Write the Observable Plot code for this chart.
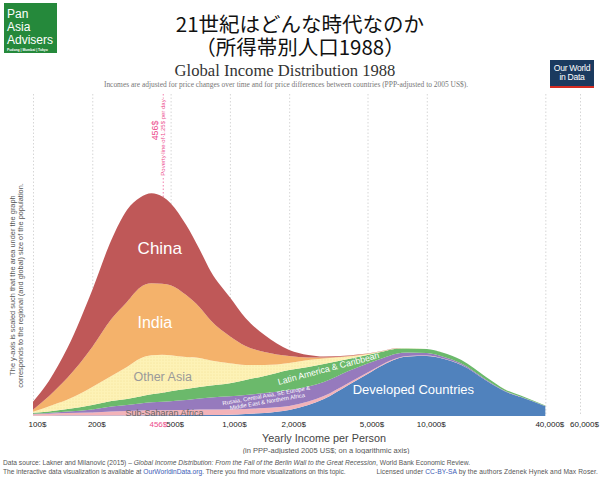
<!DOCTYPE html>
<html><head><meta charset="utf-8">
<script src="https://cdn.jsdelivr.net/npm/d3@7"></script>
<script src="https://cdn.jsdelivr.net/npm/@observablehq/plot@0.6"></script>
<style>
body{margin:0;background:#fff;}
#wrap{position:relative;width:600px;height:478px;overflow:hidden;font-family:"Liberation Sans",Arial,sans-serif;background:#fff;}
.abs{position:absolute;white-space:nowrap;}
.jp{font-family:"Noto Sans CJK JP",sans-serif;font-size:20.5px;line-height:23px;color:#111;left:0;width:600px;text-align:center;}
.blue{color:#3b5bb5;}
</style></head><body>
<div id="wrap">
  <svg class="abs" style="left:4px;top:3px" width="53" height="50">
    <rect width="53" height="50" fill="#25893b"/>
    <text x="3" y="15" font-size="12" fill="#fff" font-family="Liberation Sans, Arial">Pan</text>
    <text x="3" y="28" font-size="12" fill="#fff" font-family="Liberation Sans, Arial">Asia</text>
    <text x="3" y="41" font-size="12" fill="#fff" font-family="Liberation Sans, Arial">Advisers</text>
    <text x="3" y="48" font-size="3.4" font-weight="bold" fill="#fff" font-family="Liberation Sans, Arial">Pudong | Mumbai | Tokyo</text>
  </svg>
  <div class="abs jp" style="top:12px">21世紀はどんな時代なのか<br>（所得帯別人口1988）</div>
  <div class="abs" style="top:62px;left:0;width:570px;text-align:center;font-family:'Liberation Serif',serif;font-size:16.6px;line-height:17px;color:#333">Global Income Distribution 1988</div>
  <div class="abs" style="top:80.5px;left:0;width:572px;text-align:center;font-family:'Liberation Serif',serif;font-size:7.45px;line-height:8px;color:#777">Incomes are adjusted for price changes over time and for price differences between countries (PPP-adjusted to 2005 US$).</div>
  <div class="abs" style="left:550px;top:60px;width:44px;height:28px;background:#1b3a5f;">
    <div style="color:#fff;font-size:8.6px;line-height:9px;text-align:center;padding-top:4px;letter-spacing:-0.3px">Our World<br>in Data</div>
    <div style="position:absolute;left:0;bottom:0;width:44px;height:2.5px;background:#d42b21"></div>
  </div>
  <div id="chart" class="abs" style="left:0;top:92px"></div>
  <div class="abs" style="left:3px;top:458px;width:595px;font-size:6.65px;line-height:9px;color:#555">
    <div>Data source: Lakner and Milanovic (2015) – <i>Global Income Distribution: From the Fall of the Berlin Wall to the Great Recession</i>, World Bank Economic Review.</div>
    <div>The interactive data visualization is available at <span class="blue">OurWorldinData.org</span>. There you find more visualizations on this topic.<span style="float:right;letter-spacing:0.1px">Licensed under <span class="blue">CC-BY-SA</span> by the authors Zdenek Hynek and Max Roser.</span></div>
  </div>
</div>
<script>
// Yearly income per person (PPP 2005 US$), sample points on the log axis
const incomes = [100,120,150,200,250,300,350,400,456,500,600,700,800,1000,1200,1500,2000,2500,3000,4000,5000,6000,7000,8000,10000,12000,15000,20000,25000,30000,40000];
// Population density per region (stacked, bottom to top)
const developed    = [0.3,0.3,0.4,0.5,0.5,0.6,0.6,0.7,0.7,0.8,0.9,1,1,1.2,2,3,6,11,17,31,42,51,57,59.5,60,57.5,51,35.5,24.5,19,9.8];
const subSaharan   = [1.5,2,2.5,3,4,4.5,5,5,5,5,5,5.5,5.5,5.5,5,5,4,3.5,3,2,1.5,1,0.7,0.5,0.4,0.3,0.2,0.1,0.1,0.05,0.05];
const russiaMENA   = [0.5,0.8,1.5,3,5,6,7,8,8.5,9,10,11,12,13,14,15,16,15,14,12,9,6,4.5,3.5,2.5,1.8,1.2,0.7,0.4,0.3,0.2];
const latinAmerica = [1,1.5,2.5,4.5,5.5,6,7,8,9,10,11,11.5,12,13,15,17,20,19.5,18,12,8.5,6.5,5,4,4,3.8,3.5,2.7,1.6,1.2,0.5];
const otherAsia    = [1,5,9.5,18,25,32,38,39,38,36,32,29,25,20,15,11,7,7,5.5,2.5,1,0.5,0.3,0.2,0.2,0.1,0.1,0.1,0.05,0.05,0];
const india        = [2,10,22,40,57,65,71,72,71,70,62,51,40,27,19,13,7,2.5,1,0.5,0.2,0.1,0.1,0.05,0,0,0,0,0,0,0];
const china        = [8,15,30,57,79,92,90,90,87,82,70,58,49,39,28,17,6,2.5,1,0.5,0.2,0.1,0.1,0.05,0,0,0,0,0,0,0];

const regions = ["Developed Countries","Sub-Saharan Africa","Russia, Central Asia, SE Europe & Middle East & Northern Africa","Latin America & Caribbean","Other Asia","India","China"];
const series = [developed, subSaharan, russiaMENA, latinAmerica, otherAsia, india, china];
const regionColors = ["#5082bd","#f3b3b9","#967abd","#6bb96b","url(#otherAsiaDots)","#f4b26b","#bf5858"];

const xTicks = [100,200,500,1000,2000,5000,10000,40000,60000];
const povertyLine = 456;

// Label anchors (income, density)
const labelNames = ["China","India","Other Asia","Latin America & Caribbean","Russia, Central Asia, SE Europe &\nMiddle East & Northern Africa","Developed Countries","Sub-Saharan Africa"];
const labelIncome = [438,413,453,3150,1530,8500,463];
const labelDensity = [168,94,40,48,18,27,3.5];

const yLabel = "The y-axis is scaled such that the area under the graph\ncorresponds to the regional (and global) size of the population.";
const xLabel = "Yearly Income per Person";
const xSubLabel = "(in PPP-adjusted 2005 US$; on a logarithmic axis)";

const labelStyles = [
  {fill:"#fff", size:17, rotate:0},
  {fill:"#fff", size:16, rotate:0},
  {fill:"#9a9a9a", size:12.5, rotate:0},
  {fill:"#fff", size:8.8, rotate:-15},
  {fill:"#fff", size:5.8, rotate:-10},
  {fill:"#fff", size:13, rotate:0},
  {fill:"#666", size:9, rotate:0}
];

const rows = regions.flatMap((r, i) => incomes.map((x, j) => ({region: r, income: x, density: series[i][j]})));
const labels = labelNames.map((n, i) => ({name: n, income: labelIncome[i], density: labelDensity[i]}));
const pink = "#ec4b8c";
const money = d => d3.format(",")(d) + "$";

const chart = Plot.plot({
  width: 600, height: 362,
  marginLeft: 33, marginRight: 20, marginTop: 2, marginBottom: 38,
  style: {fontFamily: "Liberation Sans, Arial, sans-serif", background: "transparent"},
  x: {type: "log", domain: [100, 60000], axis: null},
  y: {domain: [0, 322], axis: null},
  color: {domain: regions, range: regionColors},
  marks: [
    Plot.ruleX(xTicks, {stroke: "#d6d6d6", strokeDasharray: "1.5,2"}),
    Plot.ruleX([povertyLine], {stroke: pink, strokeOpacity: 0.7, strokeDasharray: "1.5,2"}),
    Plot.areaY(rows, {x: "income", y: "density", z: "region", fill: "region", curve: "monotone-x"}),
    ...labels.map((l, i) => Plot.text([l], {
      x: "income", y: "density", text: "name",
      fill: labelStyles[i].fill, fontSize: labelStyles[i].size, rotate: labelStyles[i].rotate,
      textAnchor: "middle", lineAnchor: "middle", lineHeight: 1.05
    })),
    Plot.text(xTicks, {x: d => d, text: money, frameAnchor: "bottom", lineAnchor: "middle",
      textAnchor: "middle", dy: 8, dx: 4, fill: "#222", fontSize: 8}),
    Plot.text([povertyLine], {x: d => d, text: money, frameAnchor: "bottom", lineAnchor: "middle",
      textAnchor: "end", dy: 8, dx: 4, fill: pink, fontSize: 8}),
    Plot.text([povertyLine], {x: d => d, text: money, frameAnchor: "top", lineAnchor: "middle",
      textAnchor: "middle", rotate: -90, dy: 36, dx: -8.5, fill: pink, fontSize: 8.8}),
    Plot.text([povertyLine], {x: d => d, text: () => "Poverty line of 1.25$ per day", frameAnchor: "top", lineAnchor: "middle",
      textAnchor: "middle", rotate: -90, dy: 43, dx: 0, fill: pink, fontSize: 6, stroke: "#fff", strokeWidth: 2}),
    Plot.text([yLabel], {frameAnchor: "left", textAnchor: "middle", lineAnchor: "middle", rotate: -90,
      dx: -17, dy: 30, fontSize: 7.4, fill: "#555", lineHeight: 1.15}),
    Plot.text([xLabel], {frameAnchor: "bottom", textAnchor: "middle", lineAnchor: "middle",
      dx: 17, dy: 22, fontSize: 10.8, fill: "#444"}),
    Plot.text([xSubLabel], {frameAnchor: "bottom", textAnchor: "middle", lineAnchor: "middle",
      dx: 19, dy: 34, fontSize: 7.5, fill: "#555"})
  ]
});
const defs = d3.select(chart).insert("defs", ":first-child");
const pat = defs.append("pattern").attr("id", "otherAsiaDots").attr("patternUnits", "userSpaceOnUse")
  .attr("width", 3).attr("height", 3);
pat.append("rect").attr("width", 3).attr("height", 3).attr("fill", "#fdf2b6");
pat.append("circle").attr("cx", 1).attr("cy", 1).attr("r", 0.5).attr("fill", "#f3dc8c");
document.getElementById("chart").appendChild(chart);
</script>
</body></html>
